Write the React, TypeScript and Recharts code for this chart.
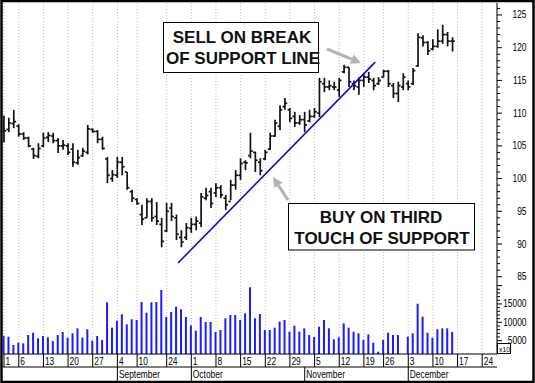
import {
  ComposedChart,
  Bar,
  Line,
  XAxis,
  YAxis,
  CartesianGrid,
} from 'recharts'

// Trading days, Aug 1 – Dec 14 (index 0..91)
const opens = [
  108.5, 107.5, 108.4, 108.0, 106.8, 106.2, 104.5, 103.4, 105.0, 106.3,
  106.5, 105.8, 105.0, 105.0, 104.5, 102.4, 103.5, 104.0, 107.5, 107.2,
  106.0, 103.0, 100.0, 100.5, 102.5, 101.0, 98.0, 96.8, 94.5, 94.0,
  96.5, 94.2, 93.0, 92.0, 95.5, 94.0, 91.0, 91.0, 92.4, 93.0,
  93.2, 97.0, 98.0, 97.8, 98.6, 97.0, 96.5, 99.0, 100.5, 102.5,
  103.5, 104.0, 102.5, 103.0, 104.5, 106.5, 108.0, 111.0, 110.5, 109.5,
  108.5, 109.0, 108.8, 109.5, 110.0, 114.5, 114.0, 114.0, 113.5, 116.3,
  117.0, 114.5, 114.0, 115.0, 115.5, 115.0, 114.5, 115.5, 116.4, 114.2,
  113.0, 114.0, 114.5, 114.5, 117.2, 121.5, 120.8, 119.8, 120.2, 121.0,
  122.0, 121.0,
]
const highs = [
  109.6, 109.3, 110.5, 108.3, 107.1, 106.4, 104.7, 105.4, 107.0, 107.1,
  107.0, 106.2, 105.9, 105.4, 105.4, 104.4, 104.7, 108.2, 107.7, 107.4,
  106.4, 103.3, 101.3, 103.3, 103.3, 101.0, 98.3, 97.0, 96.0, 97.0,
  97.0, 96.4, 94.0, 96.3, 96.3, 94.5, 92.1, 93.2, 94.0, 94.2,
  97.8, 98.6, 98.6, 99.3, 99.0, 97.5, 99.8, 101.3, 103.1, 102.8,
  107.0, 104.1, 103.1, 104.4, 107.0, 109.0, 111.2, 112.3, 110.8, 110.2,
  109.7, 110.2, 110.5, 110.8, 115.4, 115.4, 115.0, 114.8, 115.4, 117.4,
  117.0, 115.0, 115.5, 116.1, 116.3, 115.4, 115.5, 116.6, 116.6, 114.6,
  114.8, 116.1, 115.0, 116.9, 122.2, 121.9, 121.0, 121.3, 122.8, 123.5,
  122.4, 121.6,
]
const lows = [
  105.5, 107.1, 107.7, 106.4, 105.9, 104.8, 103.0, 103.1, 104.8, 105.6,
  105.4, 103.9, 104.4, 103.6, 101.8, 102.1, 103.3, 103.7, 107.0, 105.4,
  104.4, 99.3, 99.5, 100.1, 100.5, 98.3, 96.4, 96.0, 92.9, 94.0,
  93.4, 92.9, 89.5, 91.8, 93.5, 90.6, 89.5, 90.6, 91.7, 92.1,
  92.6, 96.7, 95.5, 97.2, 97.0, 95.2, 96.7, 98.3, 99.8, 101.3,
  103.1, 101.0, 100.5, 102.8, 104.4, 106.4, 107.4, 110.5, 108.6, 107.9,
  108.2, 107.1, 108.6, 109.3, 109.4, 113.2, 113.5, 113.5, 112.5, 116.1,
  114.0, 113.5, 112.8, 114.0, 114.6, 113.5, 114.3, 115.5, 114.0, 112.3,
  111.7, 113.5, 113.5, 114.3, 117.1, 120.2, 118.9, 119.6, 120.0, 120.6,
  120.2, 119.4,
]
const closes = [
  107.3, 108.5, 108.7, 106.8, 106.2, 105.0, 103.5, 104.6, 106.2, 106.6,
  105.8, 105.0, 105.1, 104.0, 102.5, 103.2, 104.2, 107.6, 107.2, 106.0,
  104.6, 100.5, 100.6, 102.5, 101.8, 98.6, 97.0, 96.2, 93.8, 96.5,
  94.0, 93.5, 90.4, 95.0, 94.2, 91.5, 90.3, 92.5, 93.0, 93.5,
  97.2, 97.4, 96.2, 98.6, 97.5, 96.0, 99.0, 100.5, 102.3, 102.4,
  104.2, 102.8, 101.2, 104.0, 106.5, 108.5, 110.5, 111.5, 109.2, 108.5,
  109.0, 108.2, 109.5, 110.2, 114.8, 114.0, 114.2, 114.0, 115.0, 117.0,
  114.8, 114.2, 115.0, 115.5, 115.2, 114.2, 115.0, 116.4, 114.5, 113.0,
  114.2, 115.5, 114.0, 116.5, 121.6, 120.8, 119.5, 120.2, 121.0, 122.0,
  121.0, 121.0,
]
const volumes = [
  6350, 6080, 3810, 4440, 4270, 6540, 7170, 5640, 6270, 5910,
  4900, 6540, 7360, 5810, 7000, 8360, 5810, 8090, 4990, 6270,
  5180, 15450, 8530, 10440, 12180, 9450, 10820, 10630, 15530, 12620,
  15450, 15530, 18800, 11440, 12810, 14250, 13540, 11440, 9180, 7710,
  11440, 10080, 10080, 7360, 7900, 11090, 11990, 11990, 10630, 12450,
  19540, 11090, 12260, 7900, 7900, 8530, 10170, 10630, 7440, 9070,
  7440, 8360, 6540, 6000, 8800, 10630, 8360, 5370, 5910, 9720,
  8530, 7440, 7000, 5180, 6730, 4440, 1990, 5180, 7170, 6540,
  6540, null, 6080, 7000, 15070, 11530, 7170, 5810, 8090, 8360,
  8360, 7360,
]

const dayTickIdx = [0, 3, 8, 13, 18, 23, 27, 33, 38, 43, 48, 53, 58, 63, 68, 73, 77, 82, 87, 92, 97]
const dayTickLabels = ['1', '6', '13', '20', '27', '4', '10', '24', '1', '8', '15', '22', '29', '5', '12', '19', '26', '3', '10', '17', '24']
const monthTickIdx = [23, 38, 61, 82]
const monthLabels = ['September', 'October', 'November', 'December']

const priceTicks = Array.from({ length: 42 }, (_, k) => 85 + k)
const priceLabels = [85, 90, 95, 100, 105, 110, 115, 120, 125]
const volTicks = Array.from({ length: 16 }, (_, k) => 5000 + k * 1000)
const volLabels = [5000, 10000, 15000]

// support line, touched Sept 26 .. broken late Nov
const trendIdx = [35.3, 75.3]
const trendPrice = [87.1, 117.8]

const data = highs.map((h, i) => ({
  i,
  open: opens[i],
  high: h,
  low: lows[i],
  close: closes[i],
  vol: volumes[i],
}))
const trendData = trendIdx.map((i, k) => ({ i, p: trendPrice[k] }))

const X_DOMAIN = [-0.2, 100]
const AXIS_FONT = "'Liberation Sans', Arial, sans-serif"
// right edge of the plot = chart width - price axis width - volume axis width
const PLOT_RIGHT = 535 - 37 - 1

// axis lettering is a condensed helvetica; squeeze the regular face
function Narrow({ x, y, anchor = 'start', size = 10.5, children }: any) {
  return (
    <text
      transform={`translate(${x},${y}) scale(0.8,1)`}
      textAnchor={anchor}
      fontSize={size}
      fontFamily={AXIS_FONT}
      fill="#000"
    >
      {children}
    </text>
  )
}

function OhlcBar(props: any) {
  const { x, y, width, height, payload } = props
  if (!payload || height == null) return null
  const top = Math.min(y, y + height)
  const bottom = Math.max(y, y + height)
  const cx = x + width / 2
  const span = payload.high - payload.low || 1
  const toY = (v: number) => top + ((payload.high - v) / span) * (bottom - top)
  return (
    <g stroke="#111" strokeWidth={1.7}>
      <line x1={cx} x2={cx} y1={top} y2={bottom} />
      <line x1={cx - 2.3} x2={cx} y1={toY(payload.open)} y2={toY(payload.open)} />
      <line x1={cx} x2={cx + 2.3} y1={toY(payload.close)} y2={toY(payload.close)} />
    </g>
  )
}

function DayTick({ x, y, payload }: any) {
  const k = dayTickIdx.indexOf(payload.value)
  return (
    <g>
      <line x1={x} x2={x} y1={y} y2={y + 13} stroke="#000" />
      <Narrow x={x + 1.5} y={y + 11}>{dayTickLabels[k]}</Narrow>
    </g>
  )
}

function MonthTick({ x, y, payload }: any) {
  const k = monthTickIdx.indexOf(payload.value)
  return (
    <g>
      <line x1={x} x2={x} y1={y} y2={y + 14} stroke="#000" />
      <Narrow x={x + 1.5} y={y + 10.5}>{monthLabels[k]}</Narrow>
    </g>
  )
}

// both value axes share the one line at the plot's right edge
function ScaleTick({ y, value, major, label }: any) {
  return (
    <g>
      <line x1={PLOT_RIGHT} x2={PLOT_RIGHT + (major ? 5 : 3)} y1={y} y2={y} stroke="#000" />
      {label && <Narrow x={PLOT_RIGHT + 29.5} y={y + 3.5} anchor="end">{value}</Narrow>}
    </g>
  )
}

function PriceTick({ y, payload }: any) {
  const v = payload.value
  return <ScaleTick y={y} value={v} major={v % 5 === 0} label={priceLabels.includes(v)} />
}

function VolTick({ y, payload }: any) {
  const v = payload.value
  return <ScaleTick y={y} value={v} major={v % 5000 === 0} label={volLabels.includes(v)} />
}

function Arrow({ x1, y1, x2, y2 }: { x1: number; y1: number; x2: number; y2: number }) {
  const dx = x2 - x1
  const dy = y2 - y1
  const len = Math.hypot(dx, dy)
  const ux = dx / len
  const uy = dy / len
  const bx = x2 - ux * 10
  const by = y2 - uy * 10
  const pts = [
    [x2, y2],
    [bx - uy * 5, by + ux * 5],
    [bx + uy * 5, by - ux * 5],
  ]
  return (
    <g fill="#b4b4b4" stroke="#b4b4b4">
      <line x1={x1} y1={y1} x2={bx} y2={by} strokeWidth={3} />
      <polygon points={pts.map((p) => p.join(',')).join(' ')} stroke="none" />
    </g>
  )
}

const noteText = {
  fontFamily: "'Liberation Sans', Arial, sans-serif",
  fontWeight: 700,
  fontSize: 17,
  fill: '#111',
} as const

export default function App() {
  return (
    <div style={{ position: 'relative', width: 535, height: 383, background: '#fff' }}>
      <style>{'body{margin:0}'}</style>
      <ComposedChart
        width={535}
        height={383}
        data={data}
        margin={{ top: 3, right: 0, left: 3, bottom: 2 }}
      >
        <CartesianGrid horizontal={false} stroke="#bdbdbd" strokeDasharray="1 2" />
        <XAxis
          dataKey="i"
          type="number"
          domain={X_DOMAIN}
          allowDataOverflow
          ticks={dayTickIdx}
          interval={0}
          height={13}
          tickLine={false}
          tickSize={0}
          tickMargin={0}
          axisLine={{ stroke: '#000' }}
          tick={<DayTick />}
        />
        <XAxis
          xAxisId="m"
          dataKey="i"
          type="number"
          domain={X_DOMAIN}
          allowDataOverflow
          ticks={monthTickIdx}
          interval={0}
          height={14}
          tickLine={false}
          tickSize={0}
          tickMargin={0}
          axisLine={{ stroke: '#000' }}
          tick={<MonthTick />}
        />
        <XAxis xAxisId="v" dataKey="i" type="number" domain={X_DOMAIN} allowDataOverflow hide />
        <YAxis
          yAxisId="price"
          orientation="right"
          type="number"
          domain={[73.19, 126.83]}
          allowDataOverflow
          ticks={priceTicks}
          interval={0}
          width={37}
          tickLine={false}
          tickSize={0}
          tickMargin={0}
          axisLine={{ stroke: '#000' }}
          tick={<PriceTick />}
        />
        <YAxis
          yAxisId="vol"
          orientation="right"
          type="number"
          domain={[1362, 97010]}
          allowDataOverflow
          ticks={volTicks}
          interval={0}
          width={1}
          tickLine={false}
          tickSize={0}
          tickMargin={0}
          axisLine={false}
          tick={<VolTick />}
        />
        <Bar
          xAxisId="v"
          yAxisId="vol"
          dataKey="vol"
          barSize={2}
          fill="#1c1cff"
          isAnimationActive={false}
        />
        <Bar
          yAxisId="price"
          dataKey={(d: any) => [d.low, d.high]}
          barSize={4}
          shape={<OhlcBar />}
          isAnimationActive={false}
        />
        <Line
          yAxisId="price"
          data={trendData}
          dataKey="p"
          stroke="#0a0ae6"
          strokeWidth={1.6}
          dot={false}
          isAnimationActive={false}
        />
      </ComposedChart>

      <svg
        width={535}
        height={383}
        style={{ position: 'absolute', left: 0, top: 0, pointerEvents: 'none' }}
      >
        <rect x={163.5} y={22.5} width={155} height={50} fill="#fff" stroke="#000" />
        <text x={242} y={43} textAnchor="middle" {...noteText}>SELL ON BREAK</text>
        <text x={243} y={63.5} textAnchor="middle" {...noteText}>OF SUPPORT LINE</text>
        <Arrow x1={327} y1={49} x2={361} y2={63} />

        <rect x={288.5} y={203.5} width={186} height={46.5} fill="#fff" stroke="#000" />
        <text x={381} y={222.5} textAnchor="middle" {...noteText}>BUY ON THIRD</text>
        <text x={382} y={243.5} textAnchor="middle" {...noteText}>TOUCH OF SUPPORT</text>
        <Arrow x1={288} y1={200} x2={273} y2={177} />

        <rect x={497.5} y={343.5} width={13} height={10} fill="#fff" stroke="#000" />
        <text transform="translate(499,351.5) scale(0.85,1)" fontSize={8} fontFamily={AXIS_FONT} fill="#000">
          x10
        </text>

        <rect x={1.5} y={1} width={532} height={381} fill="none" stroke="#000" strokeWidth={2.5} />
      </svg>
    </div>
  )
}
